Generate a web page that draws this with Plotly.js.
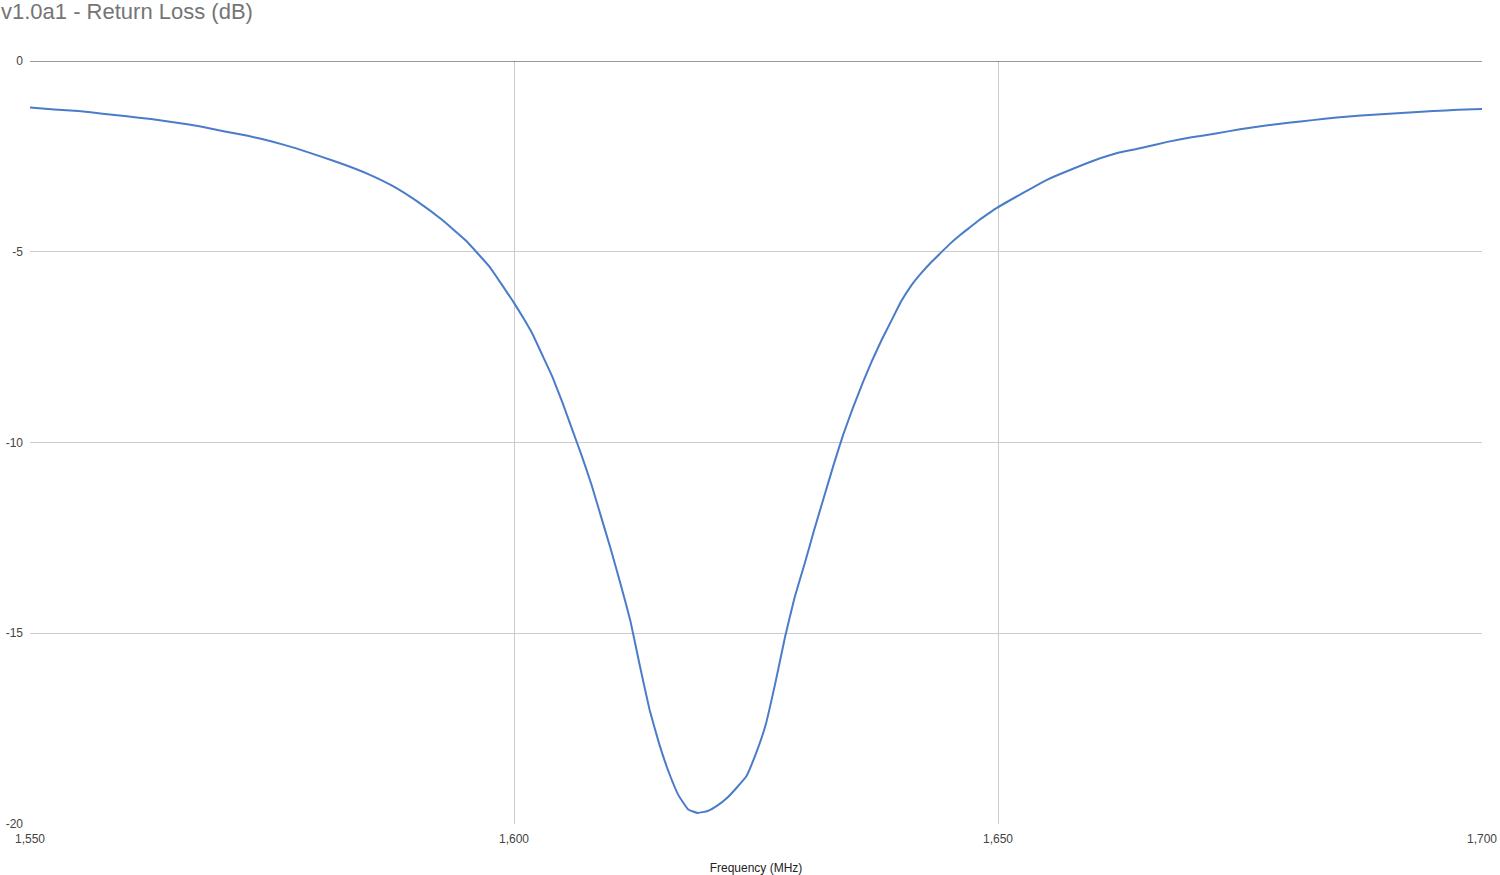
<!DOCTYPE html>
<html>
<head>
<meta charset="utf-8">
<script src="https://cdn.plot.ly/plotly-3.0.1.min.js"></script>
<style>html,body{margin:0;padding:0;background:#fff;}#chart{width:1500px;height:875px;}</style>
</head>
<body>
<div id="chart"></div>
<script>
const frequencyMHz = [
  1550, 1552.5, 1555, 1557.5, 1560, 1562.5, 1565, 1567.5, 1570, 1572.5,
  1575, 1577.5, 1580, 1582.5, 1585, 1587.5, 1590, 1592.5, 1595, 1597.5,
  1600, 1601, 1602, 1603, 1604, 1605, 1606, 1607, 1608, 1609,
  1610, 1611, 1612, 1613, 1614, 1615, 1616, 1617, 1618, 1619,
  1620, 1621, 1622, 1623, 1624, 1625, 1626, 1627, 1628, 1629,
  1630, 1631, 1632, 1633, 1634, 1635, 1636, 1637, 1638, 1639,
  1640, 1641, 1642, 1643, 1644, 1645, 1646, 1647, 1648, 1649,
  1650, 1652.5, 1655, 1657.5, 1660, 1662.5, 1665, 1667.5, 1670, 1672.5,
  1675, 1677.5, 1680, 1682.5, 1685, 1687.5, 1690, 1692.5, 1695, 1697.5, 1700
];
const returnLossDb = [
  -1.22, -1.27, -1.31, -1.38, -1.45, -1.52, -1.61, -1.71, -1.84, -1.96,
  -2.11, -2.29, -2.50, -2.72, -2.97, -3.28, -3.68, -4.15, -4.70, -5.40,
  -6.34, -6.75, -7.20, -7.75, -8.30, -8.95, -9.65, -10.35, -11.10, -11.95,
  -12.80, -13.70, -14.65, -15.85, -17.00, -17.90, -18.65, -19.25, -19.62, -19.71,
  -19.66, -19.52, -19.32, -19.05, -18.75, -18.15, -17.40, -16.30, -15.10, -14.05,
  -13.20, -12.30, -11.45, -10.60, -9.80, -9.10, -8.45, -7.85, -7.30, -6.80,
  -6.30, -5.90, -5.58, -5.30, -5.05, -4.80, -4.58, -4.38, -4.18, -4.00,
  -3.83, -3.47, -3.12, -2.85, -2.60, -2.40, -2.27, -2.12, -2.00, -1.90,
  -1.79, -1.70, -1.62, -1.55, -1.48, -1.43, -1.39, -1.35, -1.31, -1.28, -1.26
];
const xTickVals = [1550, 1600, 1650, 1700];
const xTickText = ["1,550", "1,600", "1,650", "1,700"];
const yTickVals = [0, -5, -10, -15, -20];
const yTickText = ["0", "-5", "-10", "-15", "-20"];

const trace = {
  x: frequencyMHz,
  y: returnLossDb,
  type: 'scatter',
  mode: 'lines',
  line: {color: '#4A7CC9', width: 2, shape: 'spline', smoothing: 0.3},
  hoverinfo: 'x+y'
};

const layout = {
  width: 1500,
  height: 875,
  paper_bgcolor: '#ffffff',
  plot_bgcolor: '#ffffff',
  margin: {l: 30, r: 18, t: 61, b: 51},
  showlegend: false,
  font: {family: 'Arial, "Liberation Sans", sans-serif', color: '#444'},
  title: {
    text: 'v1.0a1 - Return Loss (dB)',
    font: {size: 22, color: '#757575', family: 'Arial, "Liberation Sans", sans-serif'},
    xref: 'container', x: 0, xanchor: 'left',
    yref: 'container', y: 0.9874, yanchor: 'middle',
    pad: {l: 1, t: 0}
  },
  xaxis: {
    range: [1550, 1700],
    tickvals: xTickVals,
    ticktext: xTickText,
    showgrid: true,
    gridcolor: '#cccccc',
    gridwidth: 1,
    zeroline: false,
    showline: false,
    ticks: '',
    ticklabelstandoff: 6,
    tickfont: {size: 12, color: '#444'},
    title: {text: 'Frequency (MHz)', font: {size: 12, color: '#222'}, standoff: 28},
    automargin: false,
    fixedrange: true
  },
  yaxis: {
    range: [-20, 0],
    tickvals: yTickVals,
    ticktext: yTickText,
    showgrid: true,
    gridcolor: '#cccccc',
    gridwidth: 1,
    zeroline: false,
    showline: false,
    ticks: '',
    ticklabelstandoff: 6,
    tickfont: {size: 12, color: '#444'},
    automargin: false,
    fixedrange: true
  },
  shapes: [
    {type: 'line', xref: 'paper', yref: 'y', x0: 0, x1: 1, y0: 0, y1: 0,
     line: {color: '#333333', width: 1}, layer: 'above'}
  ]
};

Plotly.newPlot('chart', [trace], layout, {displayModeBar: false, staticPlot: true});
</script>
</body>
</html>
